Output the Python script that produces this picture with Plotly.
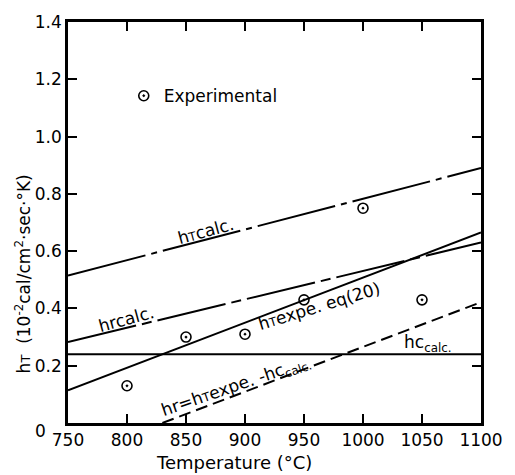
import plotly.graph_objects as go

# Temperatures (°C) at the ends of each straight-line relation
temp_ends = [750, 1100]
hT_calc = [0.515, 0.89]          # total coefficient, calculated
hr_calc = [0.283, 0.63]          # radiative coefficient, calculated
hT_expe_eq20 = [0.114, 0.665]    # experimental fit, eq(20)
hc_calc = [0.24, 0.24]           # convective coefficient, calculated
diff_temps = [830, 1100]
hr_diff = [0.0, 0.422]           # hr = hT expe. - hc calc.

# Measured points
exp_temps = [800, 850, 900, 950, 1000, 1050]
exp_hT = [0.13, 0.30, 0.31, 0.43, 0.75, 0.43]

x_ticks = [750, 800, 850, 900, 950, 1000, 1050, 1100]
y_ticks = [0, 0.2, 0.4, 0.6, 0.8, 1.0, 1.2, 1.4]
# the origin label is set apart, below-left of the corner
y_tick_text = ["", "0.2", "0.4", "0.6", "0.8", "1.0", "1.2", "1.4"]

FONT = "DejaVu Sans"
INK = "black"

fig = go.Figure()

line_specs = [
    (temp_ends, hT_calc, "80px,6px,6px,6px"),
    (temp_ends, hr_calc, "70px,6px,10px,6px"),
    (temp_ends, hT_expe_eq20, "solid"),
    (temp_ends, hc_calc, "solid"),
    (diff_temps, hr_diff, "12px,6px"),
]
for xs, ys, dash in line_specs:
    fig.add_trace(go.Scatter(
        x=xs, y=ys, mode="lines", showlegend=False, hoverinfo="skip",
        line=dict(color=INK, width=2, dash=dash),
    ))

fig.add_trace(go.Scatter(
    x=exp_temps, y=exp_hT, mode="markers", name="Experimental",
    marker=dict(symbol="circle-open-dot", size=10, color=INK,
                line=dict(color=INK, width=1.6)),
))

SMALL_T = "<span style='font-size:12px'>T</span>"
labels = [
    ("h" + SMALL_T + "calc.", 866.7, 0.672, -15),
    ("hrcalc.", 799.5, 0.362, -15),
    ("h" + SMALL_T + "expe. eq(20)", 963, 0.407, -17),
    ("hc<sub>calc.</sub>", 1055.5, 0.276, 0),
    ("hr=h" + SMALL_T + "expe. -hc<sub>calc.</sub>", 892.7, 0.128, -19),
]
for text, x, y, ang in labels:
    fig.add_annotation(x=x, y=y, xref="x", yref="y", text=text, showarrow=False,
                       textangle=ang, xanchor="center", yanchor="middle",
                       font=dict(family=FONT, size=17, color=INK))

fig.add_annotation(
    x=-0.067, y=-0.020, xref="paper", yref="paper", showarrow=False,
    xanchor="center", yanchor="middle",
    text="0", font=dict(family=FONT, size=17, color=INK),
)
fig.add_annotation(
    x=-0.110, y=0.372, xref="paper", yref="paper", showarrow=False, textangle=-90,
    xanchor="center", yanchor="middle",
    text="h<span style='font-size:13px'>T</span>  (10<sup>-2</sup>cal/cm<sup>2</sup>·sec·°K)",
    font=dict(family=FONT, size=17, color=INK),
)
fig.add_annotation(
    x=0.403, y=-0.0985, xref="paper", yref="paper", showarrow=False,
    xanchor="center", yanchor="middle",
    text="Temperature (°C)", font=dict(family=FONT, size=18, color=INK),
)

axis_common = dict(
    showline=True, linecolor=INK, linewidth=2.5, mirror="allticks",
    ticks="inside", ticklen=9, tickwidth=2, tickcolor=INK,
    showgrid=False, zeroline=False,
    tickfont=dict(family=FONT, size=17, color=INK),
)

fig.update_layout(
    width=515, height=475,
    margin=dict(l=68, r=30, t=17, b=52),
    paper_bgcolor="white", plot_bgcolor="white",
    xaxis=dict(range=[750, 1100], tickvals=x_ticks, **axis_common),
    yaxis=dict(range=[0, 1.4], tickvals=y_ticks, ticktext=y_tick_text, **axis_common),
    legend=dict(x=0.135, y=0.815, xanchor="left", yanchor="middle",
                bgcolor="rgba(0,0,0,0)", borderwidth=0,
                font=dict(family=FONT, size=17, color=INK)),
)

fig.write_html("out.html")
